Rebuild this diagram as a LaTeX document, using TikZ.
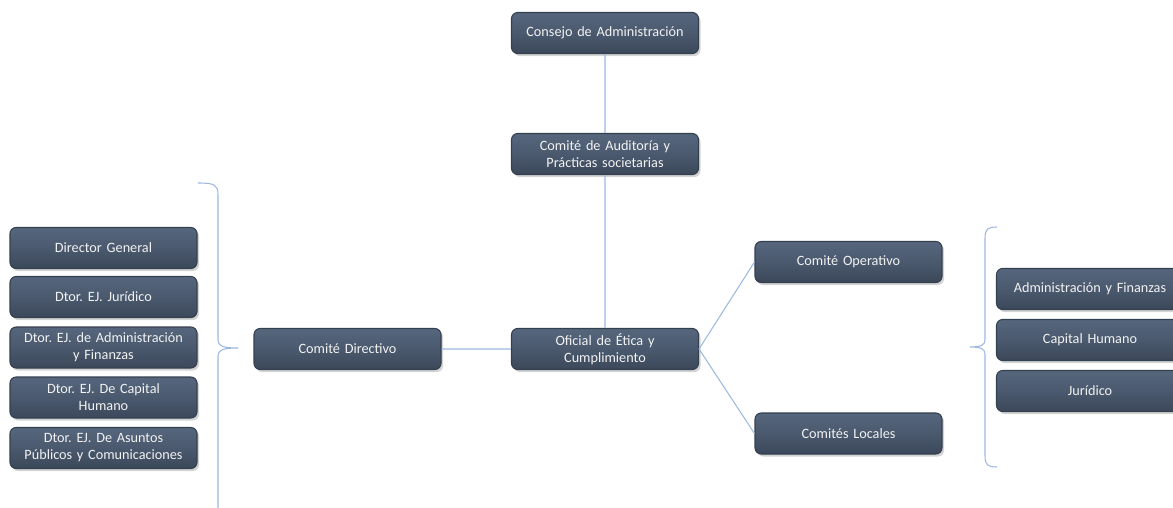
\documentclass[tikz,border=0pt]{standalone}
\usepackage{fontspec}
\setmainfont{Carlito}
\frenchspacing
\usetikzlibrary{shadows}

\definecolor{box_top}{HTML}{56667C}
\definecolor{box_mid}{HTML}{4A596E}
\definecolor{box_bot}{HTML}{3C485A}
\definecolor{box_edge}{HTML}{33404F}
\definecolor{box_text}{HTML}{F2F2F2}
\definecolor{link_blue}{HTML}{9DB8DF}

\begin{document}
\begin{tikzpicture}
    \tikzstyle{org_box}   = [shape = rectangle, rounded corners=3.5pt, draw = box_edge, semithick,
                             top color = box_top, bottom color = box_bot, middle color = box_mid,
                             drop shadow = {opacity=0.35, shadow xshift=0.04cm, shadow yshift=-0.05cm},
                             minimum width=3.74cm, minimum height=0.82cm, text width=3.6cm,
                             align=center, text=box_text, font=\fontsize{8.1}{9.7}\selectfont, inner sep=1pt]
    \tikzstyle{org_link}  = [draw = link_blue, semithick]
    \tikzstyle{org_brace} = [draw = link_blue, semithick]

    \useasboundingbox (0,0) rectangle (23.46,-10.16);

    \node[org_box] at (12.10, -0.66) (consejo)   {Consejo de Administración};
    \node[org_box] at (12.10, -3.08) (auditoria) {Comité de Auditoría y\\Prácticas societarias};
    \node[org_box] at (12.10, -6.98) (oficial)   {Oficial de Ética y\\Cumplimiento};
    \node[org_box] at (6.95,  -6.98) (directivo) {Comité Directivo};
    \node[org_box] at (16.97, -5.24) (operativo) {Comité Operativo};
    \node[org_box] at (16.97, -8.67) (locales)   {Comités Locales};

    % miembros del comite directivo
    \node[org_box] at (2.07, -4.96) (dir_general)  {Director General};
    \node[org_box] at (2.07, -5.94) (dir_juridico) {Dtor. EJ. Jurídico};
    \node[org_box] at (2.07, -6.95) (dir_admin)    {Dtor. EJ. de Administración\\y Finanzas};
    \node[org_box] at (2.07, -7.95) (dir_capital)  {Dtor. EJ. De Capital\\Humano};
    \node[org_box] at (2.07, -8.96) (dir_asuntos)  {Dtor. EJ. De Asuntos\\Públicos y Comunicaciones};

    % miembros del comite operativo
    \node[org_box] at (21.80, -5.78) (op_admin)    {Administración y Finanzas};
    \node[org_box] at (21.80, -6.80) (op_capital)  {Capital Humano};
    \node[org_box] at (21.80, -7.82) (op_juridico) {Jurídico};

    \draw[org_link]
      (consejo)   -- (auditoria)
      (auditoria) -- (oficial)
      (directivo) -- (oficial)
      (oficial.east) -- (operativo.west)
      (oficial.east) -- (locales.west)
    ;

    % llaves
    \draw[org_brace] (3.96,-3.66) .. controls (4.30,-3.66) and (4.36,-3.70) .. (4.36,-3.90)
      -- (4.36,-6.80) .. controls (4.36,-6.92) and (4.45,-6.96) .. (4.76,-6.96)
      .. controls (4.45,-6.96) and (4.36,-7.00) .. (4.36,-7.12) -- (4.36,-10.20);
    \draw[org_brace] (19.94,-4.54) .. controls (19.76,-4.54) and (19.70,-4.58) .. (19.70,-4.76)
      -- (19.70,-6.80) .. controls (19.70,-6.90) and (19.62,-6.94) .. (19.40,-6.94)
      .. controls (19.62,-6.94) and (19.70,-6.98) .. (19.70,-7.08)
      -- (19.70,-9.12) .. controls (19.70,-9.30) and (19.76,-9.34) .. (19.94,-9.34);
\end{tikzpicture}
\end{document}
